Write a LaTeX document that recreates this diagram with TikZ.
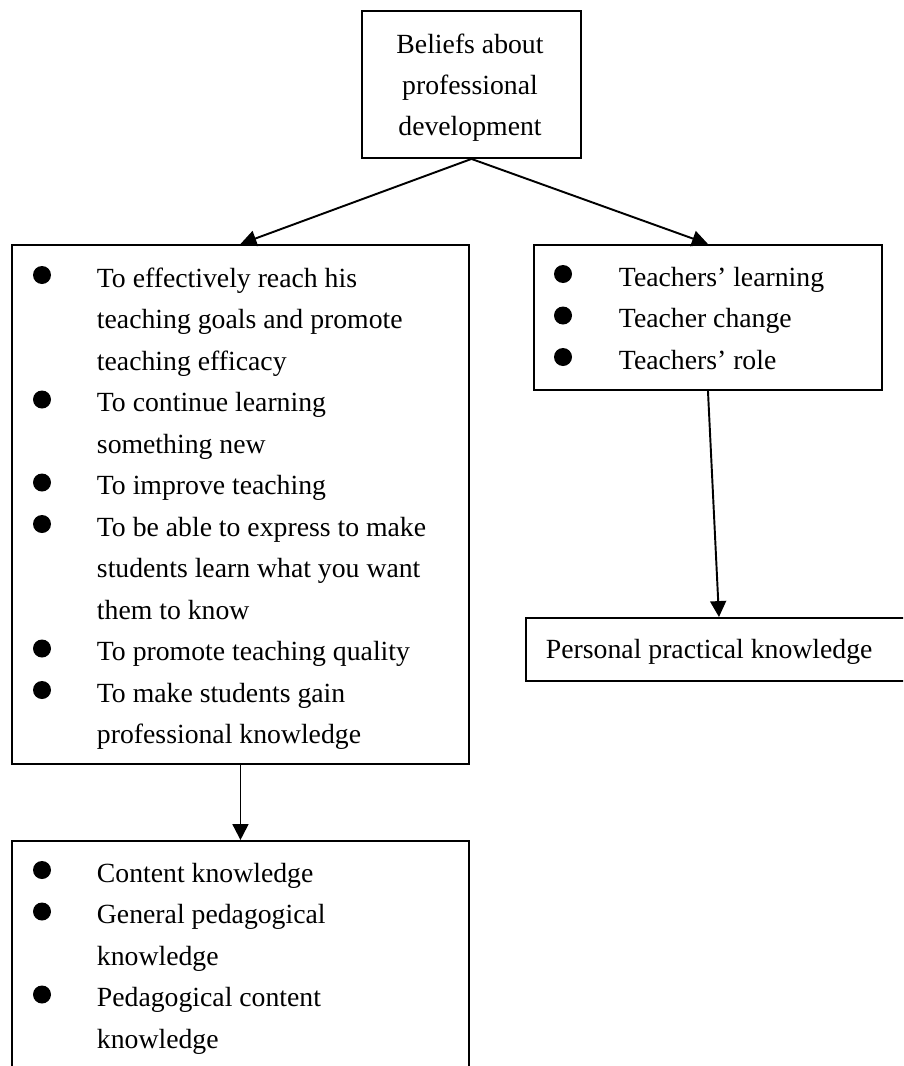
\documentclass[tikz,border=0pt]{standalone}
\usepackage{fontspec}
\setmainfont{Liberation Serif}
\usetikzlibrary{arrows.meta}
\newcommand{\px}{0.44pt}

\begin{document}
\begin{tikzpicture}[x=0.44pt,y=-0.44pt,line width=0.85pt,>={Triangle[length=7pt,width=7pt]},
  box/.style={draw,anchor=north west,inner sep=0pt},
  txt/.style={anchor=base west,inner sep=0pt,font=\fontsize{12.2}{14}\selectfont},
  dot/.style={circle,fill,inner sep=0pt,minimum size=18*\px}]

\useasboundingbox (0,0) rectangle (903,1066);
\clip (0,0) rectangle (903,1066);

% boxes
\node[box,minimum width=219*\px,minimum height=147*\px] (belief) at (361,10) {};
\node[box,minimum width=457*\px,minimum height=519*\px] (goals) at (11,244) {};
\node[box,minimum width=348*\px,minimum height=145*\px] (roles) at (533,244) {};
\node[box,minimum width=386*\px,minimum height=63*\px] (personal) at (525,617) {};
\node[box,minimum width=457*\px,minimum height=260*\px] (knowledge) at (11,840) {};

% top box
\foreach \t [count=\i from 0] in {Beliefs about, professional, development}
  \node[txt,anchor=base] (b\i) at (470,53+41*\i) {\t};

% left box
\foreach \t [count=\i from 0] in {To effectively reach his, teaching goals and promote,
  teaching efficacy, To continue learning, something new, To improve teaching,
  To be able to express to make, students learn what you want, them to know,
  To promote teaching quality, To make students gain, professional knowledge}
  \node[txt] (g\i) at (96,287+41.5*\i) {\t};
\foreach \k in {0,3,5,6,9,10}
  \node[dot] (gd\k) at (42,275+41.5*\k) {};

% right box
\foreach \t [count=\i from 0] in {Teachers’ learning, Teacher change, Teachers’ role}
  \node[txt] (r\i) at (618,286+41.5*\i) {\t};
\foreach \k in {0,1,2}
  \node[dot] (rd\k) at (563,274+41.5*\k) {};

\node[txt] (p0) at (545,658) {Personal practical knowledge};

% bottom box
\foreach \t [count=\i from 0] in {Content knowledge, General pedagogical, knowledge,
  Pedagogical content, knowledge}
  \node[txt] (k\i) at (96,882+41.5*\i) {\t};
\foreach \k in {0,1,3}
  \node[dot] (kd\k) at (42,870+41.5*\k) {};

% arrows
\draw[->] (belief.south) -- (goals.north);
\draw[->] (belief.south) -- (roles.north);
\draw[->] (roles.south) -- (personal.north);
\draw[->] (goals.south) -- (knowledge.north);

\end{tikzpicture}
\end{document}
